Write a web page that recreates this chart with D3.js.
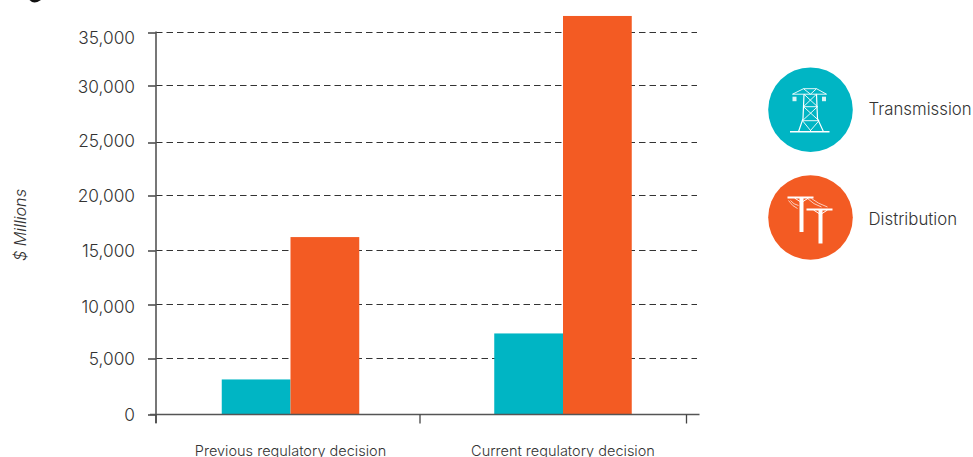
<!DOCTYPE html>
<html>
<head>
<meta charset="utf-8">
<script src="https://cdn.jsdelivr.net/npm/d3@7"></script>
<style>
html, body { margin: 0; padding: 0; background: #fff; overflow: hidden; }
svg { display: block; }
text { font-family: Inter, Lato, sans-serif; font-weight: 300; fill: #333; }
</style>
</head>
<body>
<div id="chart"></div>
<script>
const categories = ["Previous regulatory decision", "Current regulatory decision"];
const seriesNames = ["Transmission", "Distribution"];
const seriesColors = ["#00b5c4", "#f35b23"];
const transmission = [3130, 7320];
const distribution = [16220, 36560];
const yTicks = [0, 5000, 10000, 15000, 20000, 25000, 30000, 35000];
const yTickLabelShift = [0, 0.5, 2, 0.5, 0.5, -2, 1.4, 5];
const xTickSlots = [0, 1, 2];

const width = 973, height = 457;
const svg = d3.select("#chart").append("svg").attr("width", width).attr("height", height);

// The value axis is spaced stop by stop, so each tick has its own range position
const y = d3.scaleLinear().domain(yTicks).range([414.5, 358.5, 304.5, 250.5, 195.5, 142.5, 85.5, 32.5]);
const x = d3.scaleBand().domain(categories).range([154.25, 699.25]);
const xInner = d3.scaleBand().domain(seriesNames).range([0, 137.5]);
const xSlots = d3.scaleLinear().domain([0, 1, 2]).range([156, 420, 686.5]);

// Tail of the page heading, which runs off the top edge
svg.append("path").attr("d", "M29.5 0H41Q37 2.6 34.5 2.6Q32 2.6 29.5 0Z").attr("fill", "#111");

// Dashed gridlines sit behind the bars
svg.append("g").selectAll("line").data(yTicks.filter(d => d > 0)).join("line")
  .attr("x1", 156).attr("x2", 697)
  .attr("y1", d => y(d)).attr("y2", d => y(d))
  .attr("stroke", "#333").attr("stroke-width", 1).attr("stroke-dasharray", "6.5 4");

// Paired bars per regulatory decision
const series = [transmission, distribution];
const groups = svg.append("g").selectAll("g").data(categories).join("g")
  .attr("transform", d => `translate(${x(d) + x.bandwidth() / 2 - xInner.bandwidth()},0)`);
groups.selectAll("rect")
  .data((d, i) => seriesNames.map((s, j) => ({ s, j, v: series[j][i] })))
  .join("rect")
  .attr("x", d => xInner(d.s))
  .attr("width", xInner.bandwidth())
  .attr("y", d => y(d.v))
  .attr("height", d => y(0) - y(d.v))
  .attr("fill", d => seriesColors[d.j]);

// Value axis
const yAxis = svg.append("g").attr("transform", "translate(156,0)")
  .call(d3.axisLeft(y).tickValues(yTicks).tickSize(8).tickPadding(13).tickFormat(d3.format(",")));
yAxis.select(".domain").remove();
yAxis.selectAll("line").attr("stroke", "#444").attr("stroke-width", 1.5);
yAxis.selectAll("text").style("font-size", "17.3px")
  .attr("transform", (d, i) => `translate(0,${yTickLabelShift[i]})`);
svg.append("line").attr("x1", 156).attr("x2", 156).attr("y1", y(35000) - 1).attr("y2", 423)
  .attr("stroke", "#555").attr("stroke-width", 1.6);

// Category baseline with its slot ticks
svg.append("line").attr("x1", 150).attr("x2", 699.5).attr("y1", y(0)).attr("y2", y(0))
  .attr("stroke", "#555").attr("stroke-width", 1.6);
svg.append("g").selectAll("line").data(xTickSlots).join("line")
  .attr("x1", d => xSlots(d)).attr("x2", d => xSlots(d))
  .attr("y1", y(0)).attr("y2", 423.5)
  .attr("stroke", "#444").attr("stroke-width", 1.3);

// Category labels
svg.append("g").selectAll("text").data(categories).join("text")
  .attr("x", d => x(d) + x.bandwidth() / 2).attr("y", 455.5)
  .attr("text-anchor", "middle").style("font-size", "14.5px").text(d => d);

// Axis title
svg.append("text").attr("transform", "translate(26,225) rotate(-90)")
  .attr("text-anchor", "middle").style("font-size", "16.2px").style("font-style", "italic")
  .text("$ Millions");

// Legend entries with pictograms
const legendY = [109.7, 217.5];
const legend = svg.append("g").selectAll("g").data(seriesNames).join("g")
  .attr("transform", (d, i) => `translate(810.5,${legendY[i]})`);
legend.append("circle").attr("r", 42.3).attr("fill", (d, i) => seriesColors[i]);
legend.append("text").attr("x", 58).attr("y", (d, i) => i === 0 ? 5 : 7.5)
  .style("font-size", "16.8px").text(d => d);

// Transmission tower
const tower = d3.select(legend.nodes()[0]).append("g")
  .attr("fill", "none").attr("stroke", "#fff").attr("stroke-width", 0.9);
tower.append("path").attr("stroke-width", 1.4).attr("d", "M-20.5 22H19");
tower.append("path").attr("stroke-width", 1.2).attr("d", "M-6.5 -15.5L-7.5 9L-12 22M6 -15.5L7 9L13 22");
tower.append("path").attr("d", "M-18 -15.5H16M-18 -15.5L-7 -21L0 -15.5L6 -21L16 -15.5M-7 -21H6");
tower.append("path").attr("d", "M-6.5 -15.5L7 -3L-8 11M6 -15.5L-7 -3L8.5 11M-7 -3H7M-8 11H8.5M-8 11L1 22M8.5 11L-1 22");
tower.selectAll(null).data([-16, 13.5]).join("rect")
  .attr("x", d => d - 2).attr("y", -13).attr("width", 4).attr("height", 4.5)
  .attr("fill", "#fff").attr("stroke", "none").attr("opacity", 0.85);

// Distribution poles with sagging wires
const poles = d3.select(legend.nodes()[1]).append("g").attr("fill", "none").attr("stroke", "#fff");
poles.append("path").attr("stroke-width", 4).attr("d", "M-9 -19.5V14.5M10 -7.5V26");
poles.append("path").attr("stroke-width", 1.8).attr("d", "M-23 -20H3M-4 -8H22");
poles.append("path").attr("stroke-width", 1).attr("d", "M-16 -19.5L-9 -15L-2 -19.5M3 -7.5L10 -3L17 -7.5");
poles.append("path").attr("stroke-width", 0.7)
  .attr("d", "M-22 -17Q-18 -11 -13 -9M-20 -17Q-17 -13 -12 -12M-3 -19Q3 -13 11 -10.5M1 -19Q7 -14 17 -10.5");
</script>
</body>
</html>
